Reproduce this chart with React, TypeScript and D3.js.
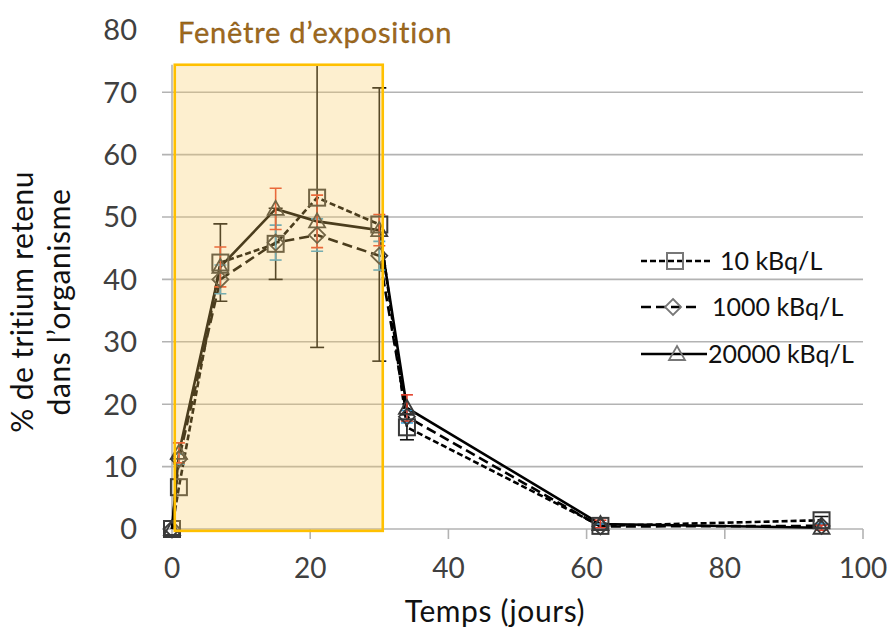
import React from "react";
import * as d3 from "d3";

// Sampling days (days since start of exposure)
const days = [0, 1, 7, 15, 21, 30, 34, 62, 94];

// Mean % of tritium retained, per concentration, with error half-widths
const mean10 = [0, 6.7, 42.7, 45.7, 53.1, 48.8, 16.3, 0.5, 1.4];
const err10 = [0, 0, 6.2, 5.7, 24, 21.9, 2.0, 0.4, 0.6];
const mean1000 = [0, 11.2, 40.0, 45.9, 47.1, 43.8, 18.0, 0.4, 0.5];
const err1000 = [0, 0.8, 2.3, 2.8, 2.6, 2.3, 1.0, 0.4, 0.4];
const mean20000 = [0, 12.2, 42.0, 51.3, 49.3, 47.9, 19.4, 0.8, 0.2];
const err20000 = [0, 1.6, 3.2, 3.3, 4.2, 2.5, 2.1, 0.6, 0.4];

const seriesNames = ["10 kBq/L", "1000 kBq/L", "20000 kBq/L"];

const xTicks = [0, 20, 40, 60, 80, 100];
const yTicks = [0, 10, 20, 30, 40, 50, 60, 70, 80];

// Exposure window (days) and visible top of the plotting area (%)
const exposureWindow = [0.4, 30.5];
const plotTop = 74.4;

const FONT = "Lato, 'Open Sans', sans-serif";

type Series = {
  name: string;
  mean: number[];
  err: number[];
  dash: string;
  marker: "square" | "diamond" | "triangle";
  errColor: string;
  cap: number;
};

const series: Series[] = [
  { name: seriesNames[0], mean: mean10, err: err10, dash: "6 3", marker: "square", errColor: "#111", cap: 14 },
  { name: seriesNames[1], mean: mean1000, err: err1000, dash: "10 5", marker: "diamond", errColor: "#3d9fd3", cap: 12 },
  { name: seriesNames[2], mean: mean20000, err: err20000, dash: "", marker: "triangle", errColor: "#e3402b", cap: 12 },
];

function Marker({ kind, x, y, stroke }: { kind: string; x: number; y: number; stroke: string }) {
  if (kind === "square") {
    return <rect x={x - 8} y={y - 8} width={16} height={16} fill="none" stroke={stroke} strokeWidth={2} />;
  }
  if (kind === "diamond") {
    return (
      <path
        d={`M${x},${y - 8}L${x + 8},${y}L${x},${y + 8}L${x - 8},${y}Z`}
        fill="none"
        stroke={stroke}
        strokeWidth={1.8}
      />
    );
  }
  return (
    <path
      d={`M${x},${y - 8}L${x + 8},${y + 6}L${x - 8},${y + 6}Z`}
      fill="none"
      stroke={stroke}
      strokeWidth={1.8}
    />
  );
}

export default function App() {
  const width = 892;
  const height = 628;
  const x = d3.scaleLinear().domain([0, 100]).range([172, 863]);
  const y = d3.scaleLinear().domain([0, 80]).range([529, 29.8]);

  const line = d3
    .line<number>()
    .x((_, i) => x(days[i]))
    .y((d) => y(d));

  const yTop = y(plotTop);
  const gridTicks = yTicks.filter((t) => t > 0 && t <= plotTop);

  const legendRows = [
    { lineEnd: 710, markerX: 675, textX: 720, y: 261 },
    { lineEnd: 697, markerX: 673, textX: 712, y: 307 },
    { lineEnd: 707, markerX: 677, textX: 708, y: 354 },
  ];

  return (
    <svg
      width={width}
      height={height}
      style={{ position: "absolute", left: 0, top: 0, background: "#fff" }}
      fontFamily={FONT}
    >
      <defs>
        <clipPath id="plotClip">
          <rect x={x(-5)} y={yTop} width={x(105) - x(-5)} height={y(-5) - yTop} />
        </clipPath>
      </defs>

      {/* horizontal gridlines */}
      {gridTicks.map((t) => (
        <line key={t} x1={162} x2={x(100)} y1={y(t)} y2={y(t)} stroke="#b3b3b3" strokeWidth={1.6} />
      ))}
      <line x1={162} x2={x(0)} y1={y(0)} y2={y(0)} stroke="#b3b3b3" strokeWidth={1.6} />

      {/* axes */}
      <line x1={x(0)} x2={x(0)} y1={yTop} y2={y(0)} stroke="#b3b3b3" strokeWidth={1.6} />
      <line x1={x(0)} x2={x(100)} y1={y(0)} y2={y(0)} stroke="#b3b3b3" strokeWidth={1.6} />
      {xTicks.map((t) => (
        <line key={t} x1={x(t)} x2={x(t)} y1={y(0)} y2={y(0) + 10} stroke="#b3b3b3" strokeWidth={1.6} />
      ))}

      {/* series lines */}
      {series.map((s) => (
        <path
          key={s.name}
          d={line(s.mean) || ""}
          fill="none"
          stroke="#000"
          strokeWidth={2.6}
          strokeDasharray={s.dash || undefined}
        />
      ))}

      {/* error bars */}
      <g clipPath="url(#plotClip)">
        {series.map((s) =>
          s.mean.map((m, i) => {
            const e = s.err[i];
            if (!e) return null;
            const cx = x(days[i]);
            const w = s.cap / 2;
            return (
              <g key={s.name + i} stroke={s.errColor} strokeWidth={1.6}>
                <line x1={cx} x2={cx} y1={y(m - e)} y2={y(m + e)} />
                <line x1={cx - w} x2={cx + w} y1={y(m - e)} y2={y(m - e)} />
                <line x1={cx - w} x2={cx + w} y1={y(m + e)} y2={y(m + e)} />
              </g>
            );
          })
        )}
      </g>

      {/* markers */}
      {series.map((s) =>
        s.mean.map((m, i) => (
          <Marker key={s.name + "m" + i} kind={s.marker} x={x(days[i])} y={y(m)} stroke="#3a3a3a" />
        ))
      )}

      {/* exposure window overlay */}
      <rect
        x={x(exposureWindow[0])}
        y={yTop}
        width={x(exposureWindow[1]) - x(exposureWindow[0])}
        height={y(-0.3) - yTop}
        fill="#f8c95f"
        fillOpacity={0.3}
        stroke="#ffc000"
        strokeWidth={2.6}
      />
      <text x={178} y={43} fontSize={29} letterSpacing={0.8} fill="#a2691c" stroke="#6b4a10" strokeWidth={0.3}>
        Fenêtre d’exposition
      </text>

      {/* y tick labels */}
      {yTicks.map((t) => (
        <text key={t} x={137} y={y(t)} dy="0.36em" textAnchor="end" fontSize={29} fill="#404040">
          {t}
        </text>
      ))}

      {/* x tick labels */}
      {xTicks.map((t) => (
        <text key={t} x={x(t)} y={578} textAnchor="middle" fontSize={28} fill="#404040">
          {t}
        </text>
      ))}

      {/* axis titles */}
      <text x={495} y={622} textAnchor="middle" fontSize={30} letterSpacing={0.6} fill="#111">
        Temps (jours)
      </text>
      <text transform="translate(33,302) rotate(-90)" textAnchor="middle" fontSize={30} letterSpacing={0.4} fill="#111">
        % de tritium retenu
      </text>
      <text transform="translate(70,302) rotate(-90)" textAnchor="middle" fontSize={30} letterSpacing={0.6} fill="#111">
        dans l’organisme
      </text>

      {/* legend */}
      {series.map((s, i) => {
        const r = legendRows[i];
        return (
          <g key={s.name}>
            <line
              x1={641}
              x2={r.lineEnd}
              y1={r.y}
              y2={r.y}
              stroke="#000"
              strokeWidth={2.4}
              strokeDasharray={s.dash || undefined}
            />
            <Marker kind={s.marker} x={r.markerX} y={r.y} stroke="#777" />
            <text x={r.textX} y={r.y} dy="0.36em" fontSize={25} fill="#111">
              {s.name}
            </text>
          </g>
        );
      })}
    </svg>
  );
}
